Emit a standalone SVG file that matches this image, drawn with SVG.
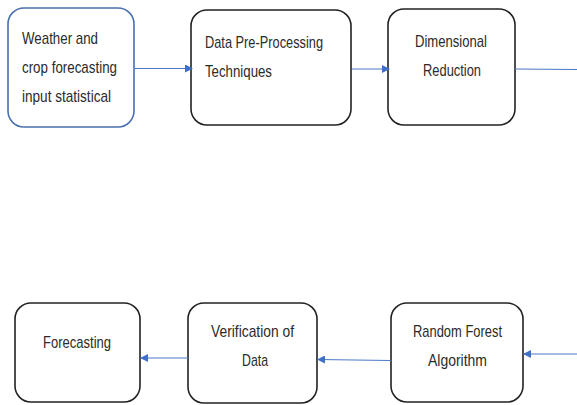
<svg xmlns="http://www.w3.org/2000/svg" width="577" height="405" viewBox="0 0 577 405">
<defs>
<style>
.box{fill:#fff;stroke:#222;stroke-width:1.6}
.blue{stroke:#4a6fb0}
.t{font-family:"Liberation Sans",Arial,sans-serif;font-size:17px;fill:#2b2b2b}
.c{stroke:#4a78c8;stroke-width:1.1;fill:none;marker-end:url(#ah)}
</style>
<marker id="ah" markerWidth="8" markerHeight="8" refX="7" refY="4" orient="auto" markerUnits="userSpaceOnUse">
<path d="M0,0 L8,4 L0,8 Z" fill="#3f6fc6"/>
</marker>
</defs>
<rect width="577" height="405" fill="#fff"/>
<g id="n1">
<rect class="box blue" x="8" y="8" width="126" height="119" rx="16"/>
<text class="t" x="22" y="44" textLength="76" lengthAdjust="spacingAndGlyphs">Weather and</text>
<text class="t" x="22" y="73" textLength="95" lengthAdjust="spacingAndGlyphs">crop forecasting</text>
<text class="t" x="22" y="102" textLength="89" lengthAdjust="spacingAndGlyphs">input statistical</text>
</g>
<g id="n2">
<rect class="box" x="191" y="10" width="160" height="115" rx="16"/>
<text class="t" x="205" y="48" textLength="118" lengthAdjust="spacingAndGlyphs">Data Pre-Processing</text>
<text class="t" x="205" y="77" textLength="67" lengthAdjust="spacingAndGlyphs">Techniques</text>
</g>
<g id="n3">
<rect class="box" x="388" y="9" width="127" height="116" rx="16"/>
<text class="t" x="415" y="47" textLength="72" lengthAdjust="spacingAndGlyphs">Dimensional</text>
<text class="t" x="423" y="76" textLength="58" lengthAdjust="spacingAndGlyphs">Reduction</text>
</g>
<g id="n4">
<rect class="box" x="391" y="303" width="132" height="99" rx="16"/>
<text class="t" x="413" y="337" textLength="89" lengthAdjust="spacingAndGlyphs">Random Forest</text>
<text class="t" x="428" y="366" textLength="59" lengthAdjust="spacingAndGlyphs">Algorithm</text>
</g>
<g id="n5">
<rect class="box" x="188" y="303" width="129" height="100" rx="16"/>
<text class="t" x="211" y="337" textLength="83" lengthAdjust="spacingAndGlyphs">Verification of</text>
<text class="t" x="242" y="366" textLength="26" lengthAdjust="spacingAndGlyphs">Data</text>
</g>
<g id="n6">
<rect class="box" x="15" y="303" width="125" height="99" rx="16"/>
<text class="t" x="43" y="348" textLength="68" lengthAdjust="spacingAndGlyphs">Forecasting</text>
</g>
<g id="connectors">
<line class="c" x1="135" y1="68.5" x2="192" y2="68.5"/>
<line class="c" x1="352" y1="69" x2="389" y2="69"/>
<line style="stroke:#4a78c8;stroke-width:1.1" x1="515" y1="69" x2="577" y2="69.5"/>
<line class="c" x1="577" y1="354" x2="524" y2="354"/>
<line class="c" x1="391" y1="360.5" x2="318" y2="359.5"/>
<line class="c" x1="188" y1="358" x2="141" y2="358"/>
</g>
</svg>
